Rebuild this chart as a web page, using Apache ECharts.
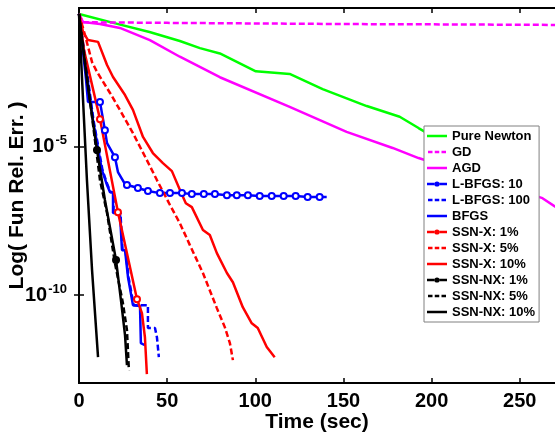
<!DOCTYPE html>
<html><head><meta charset="utf-8">
<script src="https://cdn.jsdelivr.net/npm/echarts@6/dist/echarts.min.js"></script>
<style>html,body{margin:0;padding:0;background:#fff}#c{width:555px;height:433px}</style>
</head><body><div id="c"></div>
<script>
// Time (sec) vs log10(relative error)
const xTicks = [0, 50, 100, 150, 200, 250];
const yTicks = [1e-10, 1e-5];
const seriesNames = ['Pure Newton','GD','AGD','L-BFGS: 10','L-BFGS: 100','BFGS','SSN-X: 1%','SSN-X: 5%','SSN-X: 10%','SSN-NX: 1%','SSN-NX: 5%','SSN-NX: 10%'];

const pureNewton = [[0,-0.54],[20,-0.85],[40,-1.15],[57.2,-1.45],[68.6,-1.69],[79.9,-1.87],[100.3,-2.47],[119.5,-2.56],[138.2,-3.07],[163.2,-3.64],[181.9,-4.0],[192.6,-4.38],[212,-5.05]];
const gd = [[0,-0.54],[2.3,-0.82],[50,-0.84],[100,-0.86],[150,-0.88],[200,-0.89],[270,-0.91],[300,-0.92]];
const agd = [[0,-0.54],[2.3,-0.81],[11.9,-0.88],[23.2,-1.01],[40.2,-1.42],[57.2,-1.98],[79.9,-2.67],[119.5,-3.67],[151.8,-4.51],[177.9,-5.05],[192.6,-5.39],[262.9,-6.74],[269.7,-7.01],[280,-7.4]];
const lbfgs10 = [[0,-0.54],[4.0,-2.76],[5.1,-3.50],[11.9,-3.50],[14.7,-4.45],[15.9,-4.89],[20.4,-5.36],[22.1,-5.86],[26.1,-6.27],[27.2,-6.30],[33.4,-6.40],[39.1,-6.50],[45.9,-6.57],[51.6,-6.57],[58.4,-6.57],[64.0,-6.60],[70.8,-6.60],[77.1,-6.60],[83.9,-6.64],[89.5,-6.64],[95.8,-6.64],[102.5,-6.67],[109.3,-6.67],[116.1,-6.67],[122.9,-6.67],[129.7,-6.70],[136.5,-6.70],[140.5,-6.70]];
const lbfgs10Marks = [3,4,6,9,10,11,12,13,14,15,16,17,18,19,20,21,22,23,24,25,26];
const lbfgs100 = [[0,-0.54],[3.6,-2.09],[8.2,-4.11],[13.3,-5.79],[16.2,-6.30],[18.0,-6.54],[19.6,-6.54],[19.6,-7.24],[23.5,-7.24],[24.7,-8.49],[26.4,-8.49],[28.1,-9.40],[29.2,-9.40],[31.0,-10.34],[39.1,-10.34],[39.1,-11.11],[43.1,-11.11],[44.2,-11.42],[45.3,-12.09]];
const bfgs = [[0,-0.54],[3.4,-2.09],[7.9,-4.11],[13.0,-5.79],[15.9,-6.30],[17.6,-6.54],[19.3,-6.54],[19.3,-7.24],[23.2,-7.24],[24.4,-8.49],[26.1,-8.49],[27.8,-9.40],[28.9,-9.40],[30.6,-10.34],[34.6,-10.37],[35.1,-11.62],[37.4,-11.69]];
const ssnX1 = [[0,-0.54],[2.8,-1.75],[11.9,-4.08],[22.1,-7.21],[32.9,-10.14],[35.7,-10.61],[37.4,-11.42],[38.5,-12.66]];
const ssnX1Marks = [2,3,4];
const ssnX5 = [[0,-0.54],[3.4,-1.25],[7.4,-2.16],[10.2,-2.49],[17.6,-3.20],[23.2,-3.77],[30.6,-4.55],[38.5,-5.46],[44.2,-6.13],[51.6,-6.97],[57.2,-7.58],[62.9,-8.32],[70.3,-9.26],[78.2,-10.44],[82.7,-11.08],[85.6,-11.62],[87.3,-12.19]];
const ssnX10 = [[0,-0.54],[2.3,-1.15],[5.1,-1.42],[10.8,-1.48],[15.9,-2.26],[19.3,-2.66],[26.1,-3.27],[30.6,-3.77],[36.3,-4.68],[41.9,-5.22],[47.6,-5.56],[52.7,-5.83],[57.8,-6.54],[60.6,-6.91],[64.0,-7.04],[70.3,-7.81],[74.2,-7.98],[78.2,-8.59],[83.9,-9.26],[87.3,-9.57],[92.9,-10.41],[98.0,-10.95],[101.4,-11.11],[106.5,-11.75],[111.0,-12.09]];
const ssnNX1 = [[0,-0.54],[4.5,-2.76],[10.2,-5.12],[14.7,-6.80],[21.0,-8.82],[23.8,-10.17],[26.1,-11.35],[27.2,-12.36]];
const ssnNX1Marks = [2,4];
const ssnNX5 = [[0,-0.54],[6.2,-3.44],[11.9,-6.13],[15.9,-7.24],[20.4,-8.93],[24.9,-10.27],[27.2,-11.18],[28.3,-12.53]];
const ssnNX10 = [[0,-0.54],[2.3,-3.44],[4.5,-6.13],[7.4,-9.16],[10.8,-12.09]];

const DASH = [6, 3];
// legend glyphs (line / dashed line / line with dot); two tiny specks fix the 20x14 frame
const FRAME = 'M0,0h0.01v0.01h-0.01z M19.99,13.99h0.01v0.01h-0.01z ';
const ICON_SOLID = 'path://' + FRAME + 'M0,5.8h20v2.4h-20z';
const ICON_DASH = 'path://' + FRAME + 'M1,5.8h4.5v2.4h-4.5z M7.75,5.8h4.5v2.4h-4.5z M14.5,5.8h4.5v2.4h-4.5z';
const ICON_MARK = 'path://' + FRAME + 'M0,5.8h7.6v2.4h-7.6z M12.4,5.8h7.6v2.4h-7.6z M7.4,7a2.6,2.6 0 1,0 5.2,0a2.6,2.6 0 1,0 -5.2,0z';

function mk(name, pts, color, dashed, marks, filled) {
  const data = pts.map((p, i) => {
    const v = [p[0], Math.pow(10, p[1])];
    if (marks && marks.indexOf(i) >= 0) return v;
    return { value: v, symbol: 'none' };
  });
  return {
    name, type: 'line', data,
    symbol: marks ? (filled ? 'circle' : 'emptyCircle') : 'none',
    symbolSize: 6, showSymbol: !!marks, showAllSymbol: true,
    itemStyle: marks ? { color: color, borderColor: color, borderWidth: 2 } : { color: color },
    lineStyle: { color: color, width: 2.5, type: dashed ? DASH : 'solid' },
    emphasis: { disabled: true }, clip: true
  };
}
const G = '#00ff00', M = '#ff00ff', B = '#0000ff', R = '#ff0000', K = '#000000';
const series = [
  mk(seriesNames[0], pureNewton, G, false),
  mk(seriesNames[1], gd, M, true),
  mk(seriesNames[2], agd, M, false),
  mk(seriesNames[3], lbfgs10, B, false, lbfgs10Marks),
  mk(seriesNames[4], lbfgs100, B, true),
  mk(seriesNames[5], bfgs, B, false),
  mk(seriesNames[6], ssnX1, R, false, ssnX1Marks),
  mk(seriesNames[7], ssnX5, R, true),
  mk(seriesNames[8], ssnX10, R, false),
  mk(seriesNames[9], ssnNX1, K, false, ssnNX1Marks, true),
  mk(seriesNames[10], ssnNX5, K, true),
  mk(seriesNames[11], ssnNX10, K, false)
];
const legendData = series.map(s => ({
  name: s.name,
  icon: s.symbol !== 'none' ? ICON_MARK : (Array.isArray(s.lineStyle.type) ? ICON_DASH : ICON_SOLID),
  itemStyle: { color: s.lineStyle.color, borderWidth: 0 }
}));

const FONT = 'Liberation Sans, Arial, sans-serif';
const axisLine = { show: true, lineStyle: { color: '#000', width: 2 } };
const tickIn = (vals) => ({ show: true, inside: true, length: 5, lineStyle: { color: '#000', width: 1.5 }, customValues: vals });
const YMIN = Math.pow(10, -12.96), YMAX = Math.pow(10, -0.34);

const chart = echarts.init(document.getElementById('c'), null, { renderer: 'canvas' });
chart.setOption({
  animation: false,
  backgroundColor: '#fff',
  grid: { left: 79, top: 8, right: 0, bottom: 50, containLabel: false, outerBoundsMode: 'none' },
  xAxis: [
    { type: 'value', min: 0, max: 270, position: 'bottom',
      name: 'Time (sec)', nameLocation: 'middle', nameGap: 29, nameMoveOverlap: false,
      nameTextStyle: { fontFamily: FONT, fontWeight: 'bold', fontSize: 21, color: '#000' },
      axisLine, axisTick: tickIn(xTicks), splitLine: { show: false },
      axisLabel: { customValues: xTicks, margin: 8, fontFamily: FONT, fontWeight: 'bold', fontSize: 20, color: '#000' } },
    { type: 'value', min: 0, max: 270, position: 'top', axisLine,
      axisTick: tickIn(xTicks), axisLabel: { show: false }, splitLine: { show: false } }
  ],
  yAxis: [
    { type: 'log', logBase: 10, min: YMIN, max: YMAX, position: 'left',
      name: 'Log( Fun Rel. Err. )', nameLocation: 'middle', nameGap: 51, nameRotate: 90, nameMoveOverlap: false,
      nameTextStyle: { fontFamily: FONT, fontWeight: 'bold', fontSize: 21, color: '#000' },
      axisLine, axisTick: tickIn(yTicks), splitLine: { show: false },
      axisLabel: { customValues: yTicks, margin: 12,
        formatter: (v) => '{b|10}{s|' + Math.round(Math.log10(v)) + '}',
        rich: { b: { fontFamily: FONT, fontWeight: 'bold', fontSize: 20, color: '#000' },
                s: { fontFamily: FONT, fontWeight: 'bold', fontSize: 13, color: '#000', padding: [0, 0, 12, 1] } } } },
    { type: 'log', logBase: 10, min: YMIN, max: YMAX, position: 'right', axisLine,
      axisTick: tickIn(yTicks), axisLabel: { show: false }, splitLine: { show: false } }
  ],
  legend: {
    orient: 'vertical', left: 424, top: 126, data: legendData,
    backgroundColor: '#fff', borderColor: '#808080', borderWidth: 1, borderRadius: 0,
    padding: [3, 4, 3, 3], itemWidth: 20, itemHeight: 14, itemGap: 2,
    selectedMode: false,
    textStyle: { fontFamily: FONT, fontWeight: 'bold', fontSize: 13, color: '#000' }
  },
  series
});
</script>
</body></html>
